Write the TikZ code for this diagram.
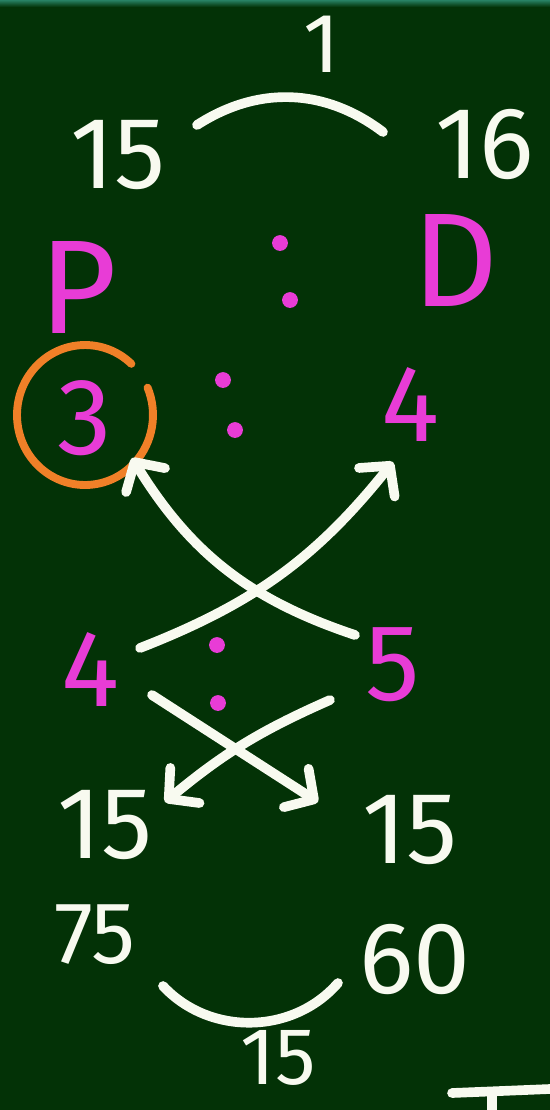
\documentclass[tikz,border=0pt]{standalone}
\usepackage{fontspec}
\setmainfont{Fira Sans}
\usetikzlibrary{arrows.meta, calc}
\definecolor{board}{RGB}{3,50,6}
\definecolor{boardedge}{RGB}{40,130,100}
\definecolor{chalk}{RGB}{248,250,240}
\definecolor{pinkchalk}{RGB}{232,60,214}
\definecolor{orangechalk}{RGB}{240,128,40}
\tikzset{
    num/.style={text=chalk, font=\fontsize{58}{58}\selectfont, inner sep=0pt},
    ratio/.style={text=pinkchalk, font=\fontsize{62}{62}\selectfont, inner sep=0pt},
    letter/.style={text=pinkchalk, font=\fontsize{76}{76}\selectfont, inner sep=0pt},
    dot/.style={circle, fill=pinkchalk, inner sep=0pt, minimum size=9pt},
    stroke/.style={draw=chalk, line width=5.5pt, line cap=round},
    arrow/.style={stroke, -{Straight Barb[round, length=12pt, width=26pt]}}
}
\begin{document}
\begin{tikzpicture}[x=0.02cm, y=-0.02cm]
        \useasboundingbox (0,0) rectangle (550,1110);
        % Board
        \fill [board] (0,0) rectangle (550,1110);
        \shade [top color=boardedge, bottom color=board] (0,0) rectangle (550,7);

        % Numbers
        \node [num, font=\fontsize{48}{48}\selectfont] (one) at (322,44) {1};
        \node [num] (fifteenT) at (118,155) {15};
        \node [num] (sixteen) at (485,145) {16};
        \node [letter] (P) at (78,287) {P};
        \node [letter] (D) at (455,260) {D};
        \node [ratio] (three) at (85,418) {3};
        \node [ratio] (fourR) at (410,405) {4};
        \node [ratio] (fourL) at (90,670) {4};
        \node [ratio] (five) at (393,665) {5};
        \node [num] (fifteenL) at (105,825) {15};
        \node [num] (fifteenR) at (410,830) {15};
        \node [num, font=\fontsize{50}{50}\selectfont] (sevfive) at (95,935) {75};
        \node [num] (sixty) at (415,960) {60};
        \node [num, font=\fontsize{46}{46}\selectfont] (fifteenB) at (278,1058) {15};

        % Colons
        \node [dot] (c1) at (280,243) {};
        \node [dot] (c2) at (290,300) {};
        \node [dot] (c3) at (223,380) {};
        \node [dot] (c4) at (235,430) {};
        \node [dot] (c5) at (217,645) {};
        \node [dot] (c6) at (218,703) {};

        % Ring round the 3
        \coordinate (ring) at (85,415);
        \draw [draw=orangechalk, line width=4.5pt, line cap=round] (ring) ++(47:1.36cm and 1.4cm)
            arc [start angle=47, end angle=383, x radius=1.36cm, y radius=1.4cm];

        % Arc ends and arrow ends
        \coordinate (topL) at (197,125);
        \coordinate (topR) at (383,132);
        \coordinate (botL) at (163,986);
        \coordinate (botR) at (338,983);
        \coordinate (aS) at (355,635);
        \coordinate (aT) at (132,458);
        \coordinate (bS) at (140,648);
        \coordinate (bT) at (393,462);
        \coordinate (cS) at (152,695);
        \coordinate (cT) at (318,802);
        \coordinate (dS) at (330,700);
        \coordinate (dT) at (165,802);

        % Strokes
        \draw [stroke] (topL) to [bend left=35] (topR);
        \draw [stroke] (botL) to [bend right=48] (botR);
        \draw [arrow] (aS) to [bend left=20] (aT);
        \draw [arrow] (bS) to [bend right=15] (bT);
        \draw [arrow] (cS) -- (cT);
        \draw [arrow] (dS) to [bend right=8] (dT);

        % Cut-off mark
        \coordinate (tL) at (452,1093);
        \coordinate (tR) at (550,1089);
        \coordinate (tS) at (492,1092);
        \coordinate (tE) at (492,1112);
        \draw [stroke] (tL) -- (tR);
        \draw [stroke] (tS) -- (tE);
\end{tikzpicture}
\end{document}
